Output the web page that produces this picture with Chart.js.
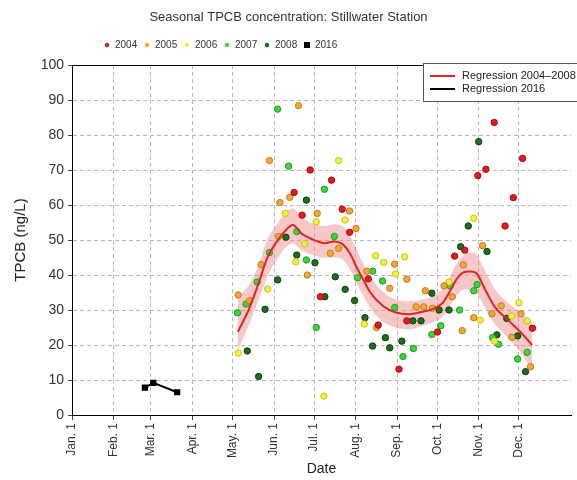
<!DOCTYPE html>
<html>
<head>
<meta charset="utf-8">
<script src="https://cdn.jsdelivr.net/npm/chart.js@4"></script>
<style>
  html, body { margin: 0; padding: 0; background: #fff; }
  #wrap { width: 577px; height: 480px; }
</style>
</head>
<body>
<div id="wrap"><canvas id="chartTpcb"></canvas></div>
<script>
// x values are day of year (Jan 1 = 0)
const monthDays = [0, 31, 59, 90, 120, 151, 181, 212, 243, 273, 304, 334];
const monthLabels = ['Jan. 1', 'Feb. 1', 'Mar. 1', 'Apr. 1', 'May. 1', 'Jun. 1',
  'Jul. 1', 'Aug. 1', 'Sep. 1', 'Oct. 1', 'Nov. 1', 'Dec. 1'];
const yTicks = [0, 10, 20, 30, 40, 50, 60, 70, 80, 90, 100];

const days2004 = [178, 194, 166, 172, 202, 207.5, 185.7, 221.5, 228.9, 244.4, 250.3, 273.2, 286, 293.6, 303.3, 309.4, 315.6, 323.7, 329.9, 336.8, 344.2];
const tpcb2004 = [70, 67.1, 63.6, 57.1, 58.8, 52.2, 33.8, 38.9, 25.7, 13.1, 26.9, 23.7, 45.4, 47.1, 68.4, 70.2, 83.6, 54, 62.1, 73.3, 24.8];

const days2005 = [169.3, 147.6, 162.8, 155.4, 183.3, 124.2, 132.8, 141.4, 154.5, 175.9, 193.1, 199.3, 207.5, 212.3, 220.3, 241.2, 250.3, 237.5, 227.6, 257.2, 262.9, 264.1, 269.5, 278.1, 284.3, 292.5, 306.9, 300.3, 291.7, 320.8, 313.9, 335.6, 328.7, 342.7];
const tpcb2005 = [88.4, 72.7, 62.2, 60.7, 57.6, 34.3, 32.7, 43, 51, 40, 46.2, 47.6, 58.3, 53.3, 41.1, 43.1, 38.8, 36.2, 25, 30.9, 30.9, 35.5, 30.5, 36.9, 33.8, 42.9, 48.4, 27.8, 24.1, 31.2, 28.9, 28.9, 22.2, 13.8];

const days2006 = [199.3, 159.4, 182.6, 204.2, 124.2, 146.3, 167.3, 173.9, 188.2, 226.9, 233, 248.6, 241.9, 218.5, 300.3, 281.8, 305.2, 334.1, 328.7, 340.2, 315.8];
const tpcb2006 = [72.7, 57.6, 55.2, 55.7, 17.7, 36, 43.8, 48.9, 5.4, 45.5, 43.6, 45.2, 40.3, 26, 56.2, 38, 27.1, 32.1, 28.3, 26.9, 21.1];

const days2007 = [153.7, 161.9, 188.7, 123.7, 130.1, 138.4, 147.6, 168, 175.2, 182.6, 196.1, 224.7, 213.4, 232.1, 247.4, 255.2, 241.2, 269, 275.7, 282.6, 289.7, 302.8, 300.3, 314.3, 318.8, 333.1, 340.2];
const tpcb2007 = [87.4, 71.1, 64.5, 29.2, 31.7, 38, 46.4, 52.4, 44.3, 25, 51, 41.1, 39.2, 38.3, 16.7, 19, 30.7, 23, 25.5, 36.9, 30, 37.3, 35.5, 22.1, 20.2, 16, 17.9];

const days2008 = [175.2, 131, 139.5, 144.3, 153.7, 159.9, 168, 181.6, 189, 196.8, 204.2, 211.2, 219, 224.7, 234.3, 237.5, 246.6, 254.8, 260.9, 269, 274.4, 281.8, 304, 296.2, 290.5, 310.2, 325, 317.6, 333.1, 339];
const tpcb2008 = [61.4, 18.3, 11, 30.2, 38.6, 50.8, 45.7, 43.5, 33.8, 39.5, 35.9, 32.7, 27.8, 19.7, 22.1, 19.2, 21.1, 26.9, 26.9, 34.8, 30, 30, 78.1, 54, 48.1, 46.7, 27.6, 22.9, 22.6, 12.4];

const days2016 = [54.5, 60.8, 78.6];
const tpcb2016 = [7.8, 9.2, 6.5];

// regression 2004-2008 with confidence band
const regDays = [124, 132, 139, 146, 154, 160, 165, 172, 178, 189, 196, 202, 208, 213, 218, 223, 233, 242, 252, 262, 270, 277, 283, 288, 294, 298, 302, 309, 316, 326, 336, 344];
const regFit = [23.8, 30, 37.1, 44.9, 50, 52.9, 54.3, 51.7, 50.5, 49.1, 49.6, 48.9, 46, 42, 38.5, 35, 31, 29.3, 28.8, 29.5, 30.3, 32, 35.7, 39.1, 40.9, 41, 40.6, 35.7, 30.9, 27.1, 23.4, 20];
const regUpper = [33.5, 37, 42.5, 50, 55, 58, 59, 56.5, 55, 54, 54.5, 54, 51, 47, 43, 39.5, 35, 33, 32.5, 33, 34, 36, 40, 43.5, 46, 46.5, 46, 41, 36, 32, 29, 26.5];
const regLower = [18.5, 25.5, 32.5, 39.5, 45, 48, 49, 47, 46, 45, 45, 44.5, 41.5, 37.5, 34, 30.5, 26.5, 25, 24.5, 25.5, 26.5, 28, 31.5, 34.5, 36, 35.5, 35, 30.5, 26, 22, 17.5, 12.5];

const yearNames = ['2004', '2005', '2006', '2007', '2008', '2016'];
const yearFill = ['#e41a1c', '#f4a736', '#f5ef3a', '#3dd43d', '#1e6e1e', '#000000'];
const yearEdge = ['#a01010', '#c27a1c', '#c9c21e', '#209a20', '#0c3c0c', '#000000'];

function pairs(xs, ys) {
  return xs.map(function(x, i) { return { x: x, y: ys[i] }; });
}

function yearSet(idx, xs, ys) {
  return {
    label: yearNames[idx],
    data: pairs(xs, ys),
    backgroundColor: yearFill[idx],
    borderColor: yearEdge[idx],
    borderWidth: 1,
    pointRadius: 3.2,
    order: 5
  };
}

// top legend row, regression legend box, top frame line
const extras = {
  id: 'extras',
  afterDraw: function(chart) {
    const ctx = chart.ctx;
    const area = chart.chartArea;
    ctx.save();

    ctx.strokeStyle = '#000';
    ctx.lineWidth = 1;
    ctx.beginPath();
    ctx.moveTo(area.left, area.top + 0.5);
    ctx.lineTo(area.right, area.top + 0.5);
    ctx.stroke();

    // year legend
    ctx.font = "10px 'Liberation Sans', Arial, sans-serif";
    ctx.textBaseline = 'middle';
    ctx.textAlign = 'left';
    let x = 107;
    const y = 45;
    yearNames.forEach(function(name, i) {
      ctx.fillStyle = yearFill[i];
      if (i === 5) {
        ctx.fillRect(x - 3, y - 3, 6, 6);
      } else {
        ctx.beginPath();
        ctx.arc(x, y, 2.2, 0, Math.PI * 2);
        ctx.fill();
      }
      ctx.fillStyle = '#333';
      ctx.fillText(name, x + 8, y);
      x += 40;
    });

    // regression legend
    ctx.fillStyle = '#fff';
    ctx.fillRect(423, 63, 170, 38);
    ctx.strokeStyle = '#555';
    ctx.strokeRect(423.5, 63.5, 170, 38);
    ctx.lineWidth = 2;
    ctx.strokeStyle = '#e02424';
    ctx.beginPath(); ctx.moveTo(430, 76); ctx.lineTo(455, 76); ctx.stroke();
    ctx.strokeStyle = '#000';
    ctx.beginPath(); ctx.moveTo(430, 89); ctx.lineTo(455, 89); ctx.stroke();
    ctx.fillStyle = '#222';
    ctx.font = "11px 'Liberation Sans', Arial, sans-serif";
    ctx.fillText('Regression 2004\u20132008', 462, 76);
    ctx.fillText('Regression 2016', 462, 89);

    ctx.restore();
  }
};

document.addEventListener('DOMContentLoaded', function() {

  Chart.defaults.font.family = "'Liberation Sans', Arial, sans-serif";
  Chart.defaults.color = '#222';

  const ctx = document.getElementById('chartTpcb');
  new Chart(ctx, {
    type: 'scatter',
    data: {
      datasets: [
        {
          label: 'band upper',
          type: 'line',
          data: pairs(regDays, regUpper),
          borderWidth: 0,
          pointRadius: 0,
          cubicInterpolationMode: 'monotone',
          fill: '+1',
          backgroundColor: 'rgba(240, 130, 130, 0.45)',
          order: 10
        },
        {
          label: 'band lower',
          type: 'line',
          data: pairs(regDays, regLower),
          borderWidth: 0,
          pointRadius: 0,
          cubicInterpolationMode: 'monotone',
          fill: false,
          order: 10
        },
        yearSet(0, days2004, tpcb2004),
        yearSet(1, days2005, tpcb2005),
        yearSet(2, days2006, tpcb2006),
        yearSet(3, days2007, tpcb2007),
        yearSet(4, days2008, tpcb2008),
        {
          label: 'Regression 2004-2008',
          type: 'line',
          data: pairs(regDays, regFit),
          borderColor: '#e02424',
          borderWidth: 2,
          pointRadius: 0,
          cubicInterpolationMode: 'monotone',
          fill: false,
          order: 1
        },
        {
          label: 'Regression 2016',
          type: 'line',
          data: pairs(days2016, tpcb2016),
          borderColor: '#000',
          backgroundColor: '#000',
          borderWidth: 2,
          pointStyle: 'rect',
          pointRadius: 3,
          tension: 0,
          fill: false,
          order: 1
        }
      ]
    },
    options: {
      responsive: true,
      maintainAspectRatio: false,
      animation: false,
      layout: { padding: { left: 0, right: 0, top: 0, bottom: 0 } },
      plugins: {
        legend: { display: false },
        tooltip: { enabled: false },
        title: {
          display: true,
          text: 'Seasonal TPCB concentration: Stillwater Station',
          color: '#333',
          font: { size: 13, weight: 'normal' },
          padding: { top: 10, bottom: 39.4 }
        }
      },
      scales: {
        x: {
          type: 'linear',
          min: 0,
          max: 373,
          afterBuildTicks: function(scale) {
            scale.ticks = monthDays.map(function(v) { return { value: v }; });
          },
          afterFit: function(scale) { scale.height = 65; },
          grid: { color: '#b8b8b8', tickColor: '#444', tickLength: 5, lineWidth: 1 },
          border: { color: '#000', width: 1, dash: [4, 3] },
          ticks: {
            autoSkip: false,
            minRotation: 90,
            maxRotation: 90,
            padding: 3,
            color: '#333',
            font: { size: 12 },
            callback: function(value) {
              const i = monthDays.indexOf(value);
              return i >= 0 ? monthLabels[i] : '';
            }
          },
          title: {
            display: true,
            text: 'Date',
            color: '#222',
            font: { size: 14 },
            padding: { top: 0, bottom: 2 }
          }
        },
        y: {
          min: 0,
          max: 100,
          afterBuildTicks: function(scale) {
            scale.ticks = yTicks.map(function(v) { return { value: v }; });
          },
          afterFit: function(scale) { scale.width = 72; },
          grid: { color: '#b8b8b8', tickColor: '#444', tickLength: 4, lineWidth: 1 },
          border: { color: '#000', width: 1, dash: [4, 3] },
          ticks: { padding: 4, color: '#333', font: { size: 14 } },
          title: {
            display: true,
            text: 'TPCB (ng/L)',
            color: '#222',
            font: { size: 15 },
            padding: { top: 12, bottom: 4 }
          }
        }
      }
    },
    plugins: [extras]
  });

});
</script>
</body>
</html>
